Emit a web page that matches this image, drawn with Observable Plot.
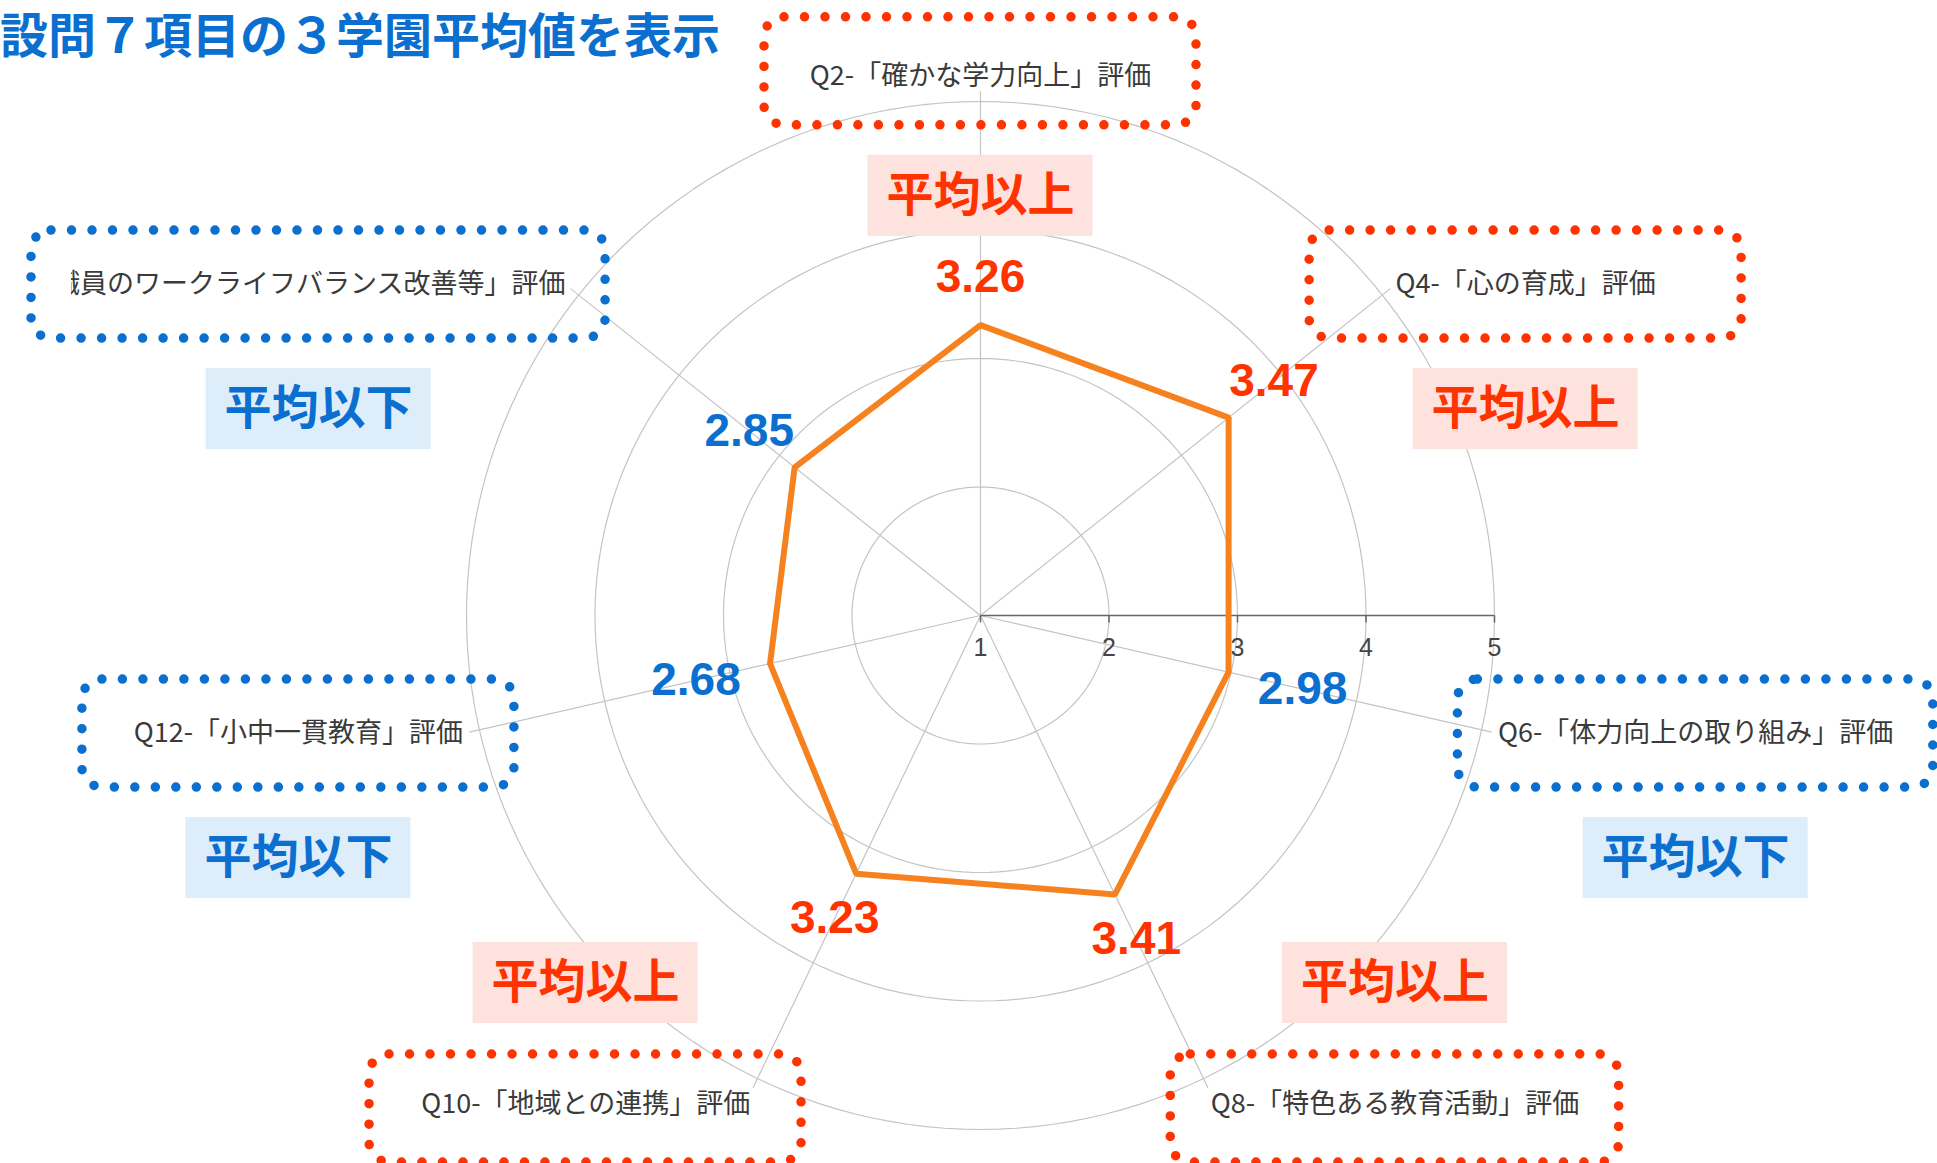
<!DOCTYPE html>
<html>
<head>
<meta charset="utf-8">
<script src="https://cdn.jsdelivr.net/npm/d3@7"></script>
<script src="https://cdn.jsdelivr.net/npm/@observablehq/plot@0.6"></script>
<style>
  html, body { margin: 0; padding: 0; background: #fff; }
  #wrap { position: relative; width: 1937px; height: 1163px; overflow: hidden; background: #fff; }
  #title { position: absolute; left: 0; top: 8px; font: 700 48px/48px "Noto Sans CJK JP", sans-serif; color: #0a6fcf; white-space: nowrap; }
</style>
</head>
<body>
<div id="wrap"></div>
<script>
// ---- data ----
const titleText = "設問７項目の３学園平均値を表示";
const categories = [
  "Q2-「確かな学力向上」評価",
  "Q4-「心の育成」評価",
  "Q6-「体力向上の取り組み」評価",
  "Q8-「特色ある教育活動」評価",
  "Q10-「地域との連携」評価",
  "Q12-「小中一貫教育」評価",
  "Q14-「教職員のワークライフバランス改善等」評価"
];
const values = [3.26, 3.47, 2.98, 3.41, 3.23, 2.68, 2.85];
const ticks = [1, 2, 3, 4, 5];
const badgeAbove = "平均以上";
const badgeBelow = "平均以下";

// ---- layout ----
const W = 1937, H = 1163, CX = 980, CY = 615, K = 128.5, ML = 71;
const RED = "#ff3300", BLUE = "#0a6fcf", RED_BG = "#fde2de", BLUE_BG = "#deedfa";
const LFS = 27;            // axis label font size
const VFS = 46;            // value label font size
const n = categories.length;
const rmin = d3.min(ticks), rmax = d3.max(ticks);
const R = rmax - rmin;     // outer radius in units
const ang = i => 2 * Math.PI * i / n;
const ux = (a, r) => r * Math.sin(a);
const uy = (a, r) => r * Math.cos(a);
const toUX = X => (X - CX) / K;
const toUY = Y => (CY - Y) / K;
const avg = d3.mean(values);

const pts = values.map((v, i) => ({
  cat: categories[i], v, a: ang(i),
  x: ux(ang(i), v - rmin), y: uy(ang(i), v - rmin),
  above: v >= avg
}));

// value label placement: just outside the vertex, clearing the label's box
const vctx = document.createElement("canvas").getContext("2d");
vctx.font = `700 ${VFS}px "Liberation Sans"`;
for (const p of pts) {
  const hw = vctx.measureText(p.v.toFixed(2)).width / 2, hh = VFS * 0.38;
  const s = Math.abs(Math.sin(p.a)), c = Math.abs(Math.cos(p.a));
  const off = Math.min(s > 1e-6 ? hw / s : Infinity, c > 1e-6 ? hh / c : Infinity) + 30;
  p.lx = ux(p.a, p.v - rmin + off / K);
  p.ly = uy(p.a, p.v - rmin + off / K);
}

// rings
const rings = [];
for (const t of ticks.slice(1)) {
  for (let d = 0; d < 360; d += 2) {
    const a = d * Math.PI / 180;
    rings.push({ring: t, x: ux(a, t - rmin), y: uy(a, t - rmin)});
  }
}

// spokes
const spokes = pts.map(p => ({x2: ux(p.a, R + 0.08), y2: uy(p.a, R + 0.08)}));

// labels, boxes, badges
const ctx = document.createElement("canvas").getContext("2d");
ctx.font = `400 ${LFS}px "Noto Sans CJK JP"`;
const labels = pts.map(p => {
  const s = Math.sin(p.a), c = Math.cos(p.a);
  const h = s > 0.3 ? "start" : s < -0.3 ? "end" : "middle";
  const v = c > 0.9 ? "bottom" : c < -0.6 ? "top" : "middle";
  const ax = CX + K * ux(p.a, R + 0.13), ay = CY - K * uy(p.a, R + 0.13);
  const w = ctx.measureText(p.cat).width;
  const left = h === "start" ? ax : h === "end" ? ax - w : ax - w / 2;
  const visL = Math.max(left, ML), visR = Math.min(left + w, W);
  const cx = (visL + visR) / 2;
  const cy = v === "middle" ? ay : v === "bottom" ? ay - LFS * 0.5 : ay + LFS * 0.55;
  const bw = Math.max(432, (visR - visL) + 80);
  const by1 = cy - 54, by2 = cy + 54;
  const bcy = v === "top" ? by1 - 31 - 40.5 : by2 + 30 + 40.5;
  return {
    text: p.cat, h, v, above: p.above,
    x: toUX(ax), y: toUY(ay),
    bx1: toUX(cx - bw / 2), bx2: toUX(cx + bw / 2), by1: toUY(by1), by2: toUY(by2),
    gx: toUX(cx), gy: toUY(bcy),
    gx1: toUX(cx - 112.5), gx2: toUX(cx + 112.5), gy1: toUY(bcy - 40.5), gy2: toUY(bcy + 40.5)
  };
});

const labelMarks = [];
for (const h of ["start", "middle", "end"]) {
  for (const v of ["top", "middle", "bottom"]) {
    const sub = labels.filter(d => d.h === h && d.v === v);
    if (!sub.length) continue;
    labelMarks.push(Plot.text(sub, {
      x: "x", y: "y", text: "text", textAnchor: h, lineAnchor: v,
      fontSize: LFS, fill: "#3a3a3a", fontFamily: "Noto Sans CJK JP", clip: true
    }));
  }
}

const chart = Plot.plot({
  width: W, height: H,
  marginLeft: ML, marginRight: 0, marginTop: 0, marginBottom: 0,
  x: {domain: [toUX(ML), toUX(W)], axis: null},
  y: {domain: [toUY(H), toUY(0)], axis: null},
  color: {type: "identity"},
  style: {fontFamily: "Noto Sans CJK JP, sans-serif", background: "#fff"},
  marks: [
    Plot.line(rings, {x: "x", y: "y", z: "ring", curve: "linear-closed", stroke: "#c4c4c4", strokeWidth: 1.2}),
    Plot.link(spokes, {x1: 0, y1: 0, x2: "x2", y2: "y2", stroke: "#c4c4c4", strokeWidth: 1.2}),
    Plot.link([0], {x1: 0, y1: 0, x2: R, y2: 0, stroke: "#666", strokeWidth: 1.5}),
    Plot.link(ticks, {x1: t => t - rmin, x2: t => t - rmin, y1: 0, y2: -7 / K, stroke: "#666", strokeWidth: 1.5}),
    Plot.text(ticks, {x: t => t - rmin, y: 0, text: d => String(d), dy: 32, fontSize: 25, fill: "#444", fontFamily: "Liberation Sans, Arial, sans-serif"}),
    Plot.line(pts, {x: "x", y: "y", curve: "linear-closed", stroke: "#f5821f", strokeWidth: 6, strokeLinejoin: "miter"}),
    Plot.rect(labels, {x1: "gx1", x2: "gx2", y1: "gy1", y2: "gy2", fill: d => d.above ? RED_BG : BLUE_BG}),
    Plot.text(labels, {x: "gx", y: "gy", text: d => d.above ? badgeAbove : badgeBelow, fill: d => d.above ? RED : BLUE, fontSize: 47, fontWeight: "bold", fontFamily: "Noto Sans CJK JP"}),
    Plot.rect(labels, {x1: "bx1", x2: "bx2", y1: "by1", y2: "by2", fill: "none", stroke: d => d.above ? RED : BLUE, strokeWidth: 9.5, strokeDasharray: "0 20.5", strokeLinecap: "round", rx: 20}),
    ...labelMarks,
    Plot.text(pts, {
      x: "lx", y: "ly",
      text: d => d.v.toFixed(2), fill: d => d.above ? RED : BLUE,
      fontSize: VFS, fontWeight: "bold", fontFamily: "Liberation Sans, Arial, sans-serif"
    })
  ]
});

const wrap = document.getElementById("wrap");
wrap.appendChild(chart);
const t = document.createElement("div");
t.id = "title";
t.textContent = titleText;
wrap.appendChild(t);
</script>
</body>
</html>
